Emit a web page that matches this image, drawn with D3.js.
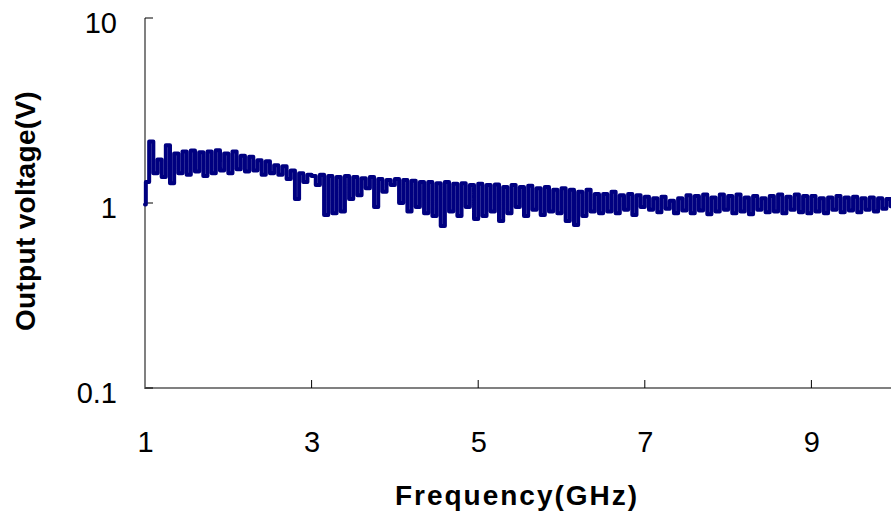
<!DOCTYPE html>
<html>
<head>
  <meta charset="utf-8">
  <title>Output voltage vs frequency</title>
  <script src="https://d3js.org/d3.v7.min.js"></script>
  <style>
    body { margin: 0; background: #fff; }
    text { font-family: "Liberation Sans", Arial, sans-serif; }
  </style>
</head>
<body>
  <script>
  // sweep frequencies (GHz)
  var freq = [
    1.00,1.01,1.05,1.10,1.15,1.20,1.25,1.30,1.35,1.40,1.45,
    1.50,1.55,1.60,1.65,1.70,1.75,1.80,1.85,1.90,1.95,
    2.00,2.05,2.10,2.15,2.20,2.25,2.30,2.35,2.40,2.45,
    2.50,2.55,2.60,2.65,2.70,2.75,2.80,2.85,2.90,2.95,
    3.00,3.05,3.10,3.15,3.20,3.25,3.30,3.35,3.40,3.45,
    3.50,3.55,3.60,3.65,3.70,3.75,3.80,3.85,3.90,3.95,
    4.00,4.05,4.10,4.15,4.20,4.25,4.30,4.35,4.40,4.45,
    4.50,4.55,4.60,4.65,4.70,4.75,4.80,4.85,4.90,4.95,
    5.00,5.05,5.10,5.15,5.20,5.25,5.30,5.35,5.40,5.45,
    5.50,5.55,5.60,5.65,5.70,5.75,5.80,5.85,5.90,5.95,
    6.00,6.05,6.10,6.15,6.20,6.25,6.30,6.35,6.40,6.45,
    6.50,6.55,6.60,6.65,6.70,6.75,6.80,6.85,6.90,6.95,
    7.00,7.05,7.10,7.15,7.20,7.25,7.30,7.35,7.40,7.45,
    7.50,7.55,7.60,7.65,7.70,7.75,7.80,7.85,7.90,7.95,
    8.00,8.05,8.10,8.15,8.20,8.25,8.30,8.35,8.40,8.45,
    8.50,8.55,8.60,8.65,8.70,8.75,8.80,8.85,8.90,8.95,
    9.00,9.05,9.10,9.15,9.20,9.25,9.30,9.35,9.40,9.45,
    9.50,9.55,9.60,9.65,9.70,9.75,9.80,9.85,9.90,9.95
  ];

  // measured output voltage (V)
  var volts = [
    0.98,1.30,2.15,1.45,1.72,1.38,2.05,1.28,1.85,1.45,1.90,
    1.42,1.92,1.48,1.88,1.40,1.90,1.45,1.93,1.50,1.85,
    1.45,1.90,1.52,1.80,1.48,1.78,1.50,1.70,1.42,1.68,
    1.45,1.60,1.42,1.58,1.35,1.50,1.05,1.45,1.30,1.42,
    1.40,1.25,1.42,0.86,1.40,0.88,1.38,0.90,1.40,1.05,
    1.38,1.10,1.36,1.20,1.38,0.95,1.35,1.15,1.33,1.25,
    1.35,1.00,1.33,0.90,1.32,0.95,1.30,0.88,1.30,0.85,
    1.28,0.75,1.30,0.90,1.27,0.85,1.28,0.95,1.25,0.82,
    1.27,0.85,1.25,0.90,1.26,0.80,1.22,0.88,1.25,0.95,
    1.22,0.85,1.24,0.92,1.20,0.86,1.22,0.90,1.18,0.88,
    1.20,0.80,1.18,0.76,1.15,0.85,1.18,0.90,1.12,0.88,
    1.12,0.90,1.15,0.88,1.10,0.92,1.12,0.86,1.10,0.95,
    1.08,0.92,1.06,0.89,1.08,0.93,1.03,0.88,1.06,0.91,
    1.10,0.88,1.09,0.91,1.11,0.87,1.07,0.90,1.11,0.92,
    1.09,0.88,1.11,0.90,1.07,0.87,1.09,0.92,1.06,0.89,
    1.09,0.90,1.11,0.88,1.08,0.92,1.11,0.89,1.09,0.88,
    1.09,0.90,1.06,0.88,1.07,0.92,1.09,0.89,1.07,0.91,
    1.08,0.89,1.06,0.92,1.07,0.90,1.06,0.93,1.05,0.96
  ];

  var xTicks = [1, 3, 5, 7, 9];
  var yTicks = [0.1, 1, 10];

  var width = 891;
  var height = 521;
  var margin = { "top": 18, "bottom": 133, "right": 0, "left": 145 };

  var dataset = freq.map(function(f, i) { return { f: f, v: volts[i] }; });

  var svg = d3.select("body").append("svg").attr("width", width).attr("height", height);

  var xScale = d3.scaleLinear()
    .domain([1, 10])
    .range([margin.left, margin.left + 9 * 83.3]);

  var yScale = d3.scaleLog()
    .domain([0.1, 10])
    .range([height - margin.bottom, margin.top]);

  var plotBottom = height - margin.bottom;

  // x axis
  var axisx = d3.axisBottom(xScale).tickValues(xTicks).tickSize(0).tickPadding(43).tickFormat(d3.format("d"));
  var gx = svg.append("g")
    .attr("transform", "translate(0," + plotBottom + ")")
    .call(axisx);
  gx.select(".domain").remove();
  gx.selectAll("text").attr("font-size", "29px").attr("fill", "#000")
    .style("font-family", "'Liberation Sans', Arial, sans-serif");

  svg.append("line")
    .attr("x1", margin.left).attr("x2", width)
    .attr("y1", plotBottom).attr("y2", plotBottom)
    .attr("stroke", "#808080").attr("stroke-width", 2);

  svg.selectAll(".xt")
    .data(xTicks.slice(1))
    .enter()
    .append("line")
    .attr("x1", function(d) { return xScale(d); })
    .attr("x2", function(d) { return xScale(d); })
    .attr("y1", plotBottom)
    .attr("y2", plotBottom - 8)
    .attr("stroke", "#000").attr("stroke-width", 1);

  // y axis
  var axisy = d3.axisLeft(yScale).tickValues(yTicks).tickSize(0).tickPadding(28)
    .tickFormat(function(d) { return d >= 1 ? d3.format("d")(d) : String(d); });
  var gy = svg.append("g")
    .attr("transform", "translate(" + margin.left + ",0)")
    .call(axisy);
  gy.select(".domain").remove();
  gy.selectAll("text").attr("font-size", "29px").attr("fill", "#000").attr("dy", "0.5em")
    .style("font-family", "'Liberation Sans', Arial, sans-serif");

  svg.append("line")
    .attr("x1", margin.left).attr("x2", margin.left)
    .attr("y1", margin.top).attr("y2", plotBottom + 1)
    .attr("stroke", "#808080").attr("stroke-width", 2);

  svg.selectAll(".yt")
    .data(yTicks)
    .enter()
    .append("line")
    .attr("x1", margin.left)
    .attr("x2", margin.left + 8)
    .attr("y1", function(d) { return yScale(d); })
    .attr("y2", function(d) { return yScale(d); })
    .attr("stroke", "#000").attr("stroke-width", 1);

  // axis titles
  svg.append("text")
    .attr("x", 517)
    .attr("y", 505)
    .attr("text-anchor", "middle")
    .attr("font-size", "28px")
    .attr("font-weight", "bold")
    .attr("letter-spacing", "2px")
    .text("Frequency(GHz)");

  svg.append("text")
    .attr("transform", "translate(35," + (yScale(1) + 8) + ") rotate(-90)")
    .attr("text-anchor", "middle")
    .attr("font-size", "28px")
    .attr("font-weight", "bold")
    .attr("letter-spacing", "0.3px")
    .text("Output voltage(V)");

  // the measured trace
  var line = d3.line()
    .x(function(d) { return xScale(d.f); })
    .y(function(d) { return yScale(d.v); })
    .curve(d3.curveStepAfter);

  svg.append("path")
    .datum(dataset)
    .attr("fill", "none")
    .attr("stroke", "#000080")
    .attr("stroke-width", 4)
    .attr("stroke-linejoin", "round")
    .attr("stroke-linecap", "round")
    .attr("d", line);
  </script>
</body>
</html>
